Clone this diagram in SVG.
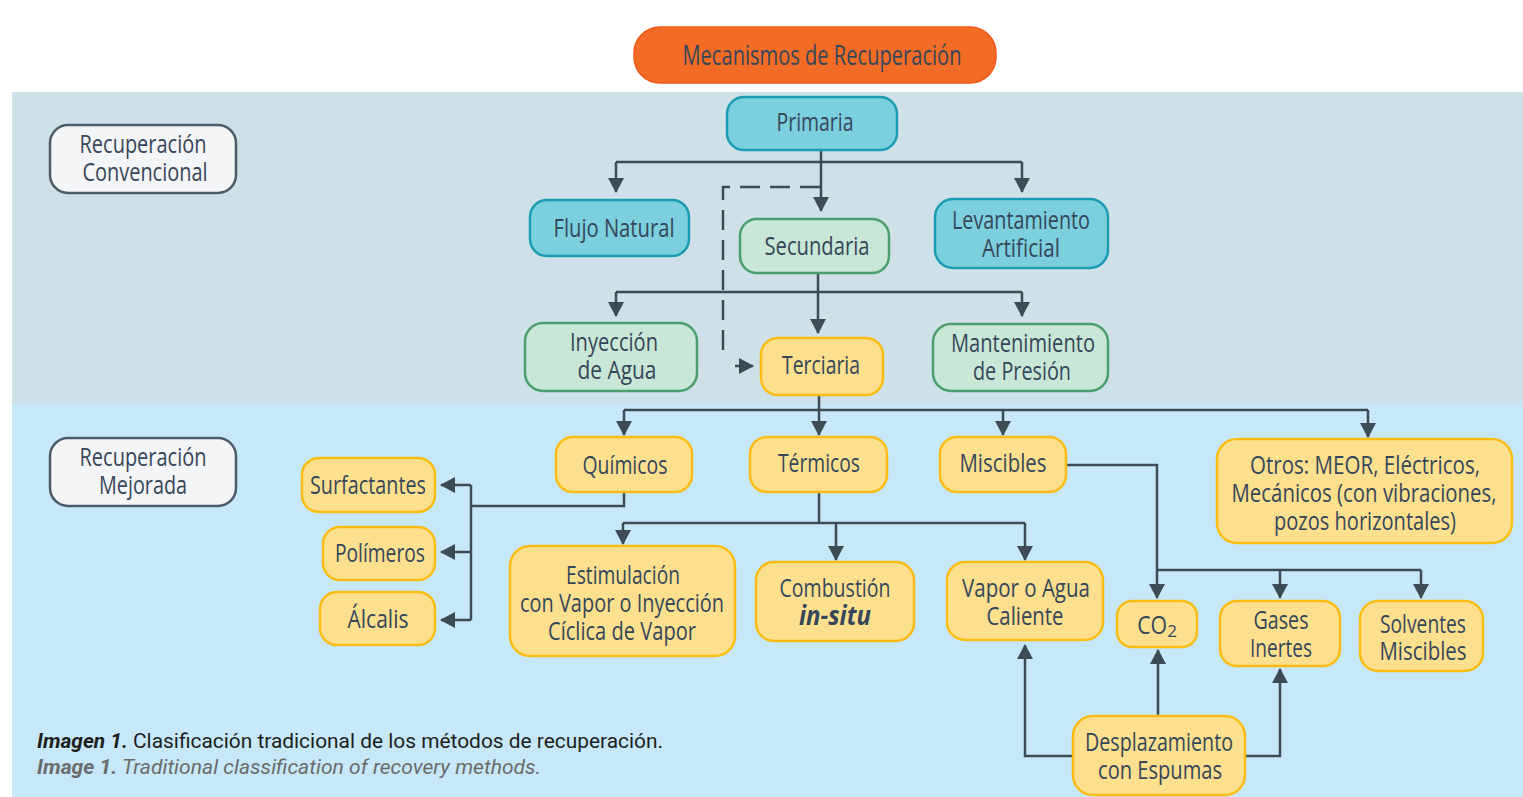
<svg xmlns="http://www.w3.org/2000/svg" width="1523" height="797" viewBox="0 0 1523 797">
<defs>
<marker id="ah" markerUnits="userSpaceOnUse" markerWidth="16" markerHeight="16" viewBox="0 0 16 16" refX="14" refY="8" orient="auto">
<path d="M0,0 L15,8 L0,16 Z" fill="#3d4b55"/>
</marker>
<style>
.t{font-family:"Open Sans","DejaVu Sans",sans-serif;font-size:26px;fill:#36465a;text-anchor:middle;dominant-baseline:central}
.c{fill:none;stroke:#3d4b55;stroke-width:2.5}
.ca{fill:none;stroke:#3d4b55;stroke-width:2.5;marker-end:url(#ah)}
.blue rect{fill:#7ccfdc;stroke:#1c9cb2;stroke-width:2.5}
.green rect{fill:#c9e7d6;stroke:#4c9e6c;stroke-width:2.5}
.yel rect{fill:#fde08e;stroke:#fbbd14;stroke-width:2.5}
.grey rect{fill:#f4f5f6;stroke:#4b5b67;stroke-width:2.5}
.cap{font-family:"Roboto","Liberation Sans",sans-serif;font-size:21px}
</style>
</defs>
<rect x="0" y="0" width="1523" height="797" fill="#ffffff"/>
<rect x="12" y="92" width="1511" height="311" fill="#cee0e8"/>
<rect x="12" y="403" width="1511" height="394" fill="#c6e8f8"/>

<g id="connectors">
<path class="c" d="M821,150 V162 M616,162 H1022"/>
<path class="ca" d="M616,162 V192"/>
<path class="ca" d="M1022,162 V192"/>
<path class="ca" d="M821,162 V211"/>
<path class="c" d="M820,187 H723 V360" stroke-dasharray="20,10"/>
<path class="ca" d="M735,366 H753"/>
<path class="c" d="M818,273 V292 M616,292 H1022"/>
<path class="ca" d="M616,292 V316"/>
<path class="ca" d="M1022,292 V316"/>
<path class="ca" d="M818,292 V333"/>
<path class="c" d="M819,395 V410 M624,410 H1368"/>
<path class="ca" d="M624,410 V435"/>
<path class="ca" d="M819,410 V435"/>
<path class="ca" d="M1003,410 V435"/>
<path class="ca" d="M1368,410 V437"/>
<path class="c" d="M624,492 V506 H471 M471,485 V620"/>
<path class="ca" d="M471,485 H441"/>
<path class="ca" d="M471,552 H441"/>
<path class="ca" d="M471,620 H441"/>
<path class="c" d="M819,492 V523 M623,523 H1025"/>
<path class="ca" d="M623,523 V544"/>
<path class="ca" d="M836,523 V560"/>
<path class="ca" d="M1025,523 V560"/>
<path class="c" d="M1066,465 H1157 V570 M1157,570 H1421"/>
<path class="ca" d="M1157,570 V598"/>
<path class="ca" d="M1280,570 V598"/>
<path class="ca" d="M1421,570 V598"/>
<path class="ca" d="M1073,756 H1025 V645"/>
<path class="ca" d="M1158,716 V650"/>
<path class="ca" d="M1245,756 H1280 V669"/>
</g>

<g id="mecanismos">
<rect x="634" y="27" width="362" height="56" rx="26" fill="#f26c25" stroke="#f05a1a" stroke-width="1.5"/>
<text class="t" x="822" y="54" style="font-size:28px" textLength="279" lengthAdjust="spacingAndGlyphs">Mecanismos de Recuperación</text>
</g>
<g id="rec-convencional" class="grey">
<rect x="50" y="125" width="186" height="68" rx="18"/>
<text class="t" x="143" y="143" textLength="127" lengthAdjust="spacingAndGlyphs">Recuperación</text>
<text class="t" x="145" y="171" textLength="125" lengthAdjust="spacingAndGlyphs">Convencional</text>
</g>
<g id="rec-mejorada" class="grey">
<rect x="50" y="438" width="186" height="68" rx="18"/>
<text class="t" x="143" y="456" textLength="127" lengthAdjust="spacingAndGlyphs">Recuperación</text>
<text class="t" x="143" y="484" textLength="88" lengthAdjust="spacingAndGlyphs">Mejorada</text>
</g>
<g id="primaria" class="blue">
<rect x="727" y="97" width="170" height="53" rx="17"/>
<text class="t" x="815" y="121" textLength="77" lengthAdjust="spacingAndGlyphs">Primaria</text>
</g>
<g id="flujo-natural" class="blue">
<rect x="530" y="200" width="159" height="56" rx="17"/>
<text class="t" x="614" y="227" textLength="121" lengthAdjust="spacingAndGlyphs">Flujo Natural</text>
</g>
<g id="levantamiento" class="blue">
<rect x="935" y="199" width="173" height="69" rx="18"/>
<text class="t" x="1021" y="219" textLength="138" lengthAdjust="spacingAndGlyphs">Levantamiento</text>
<text class="t" x="1021" y="247" textLength="78" lengthAdjust="spacingAndGlyphs">Artificial</text>
</g>
<g id="secundaria" class="green">
<rect x="740" y="219" width="149" height="54" rx="17"/>
<text class="t" x="817" y="245" textLength="105" lengthAdjust="spacingAndGlyphs">Secundaria</text>
</g>
<g id="inyeccion-agua" class="green">
<rect x="525" y="323" width="172" height="68" rx="18"/>
<text class="t" x="614" y="341" textLength="88" lengthAdjust="spacingAndGlyphs">Inyección</text>
<text class="t" x="617" y="369" textLength="79" lengthAdjust="spacingAndGlyphs">de Agua</text>
</g>
<g id="mantenimiento" class="green">
<rect x="933" y="324" width="175" height="67" rx="18"/>
<text class="t" x="1023" y="342" textLength="144" lengthAdjust="spacingAndGlyphs">Mantenimiento</text>
<text class="t" x="1022" y="370" textLength="98" lengthAdjust="spacingAndGlyphs">de Presión</text>
</g>
<g id="terciaria" class="yel">
<rect x="761" y="338" width="122" height="57" rx="17"/>
<text class="t" x="821" y="364" textLength="78" lengthAdjust="spacingAndGlyphs">Terciaria</text>
</g>
<g id="quimicos" class="yel">
<rect x="556" y="437" width="136" height="55" rx="17"/>
<text class="t" x="625" y="464" textLength="85" lengthAdjust="spacingAndGlyphs">Químicos</text>
</g>
<g id="termicos" class="yel">
<rect x="750" y="437" width="137" height="55" rx="17"/>
<text class="t" x="819" y="462" textLength="82" lengthAdjust="spacingAndGlyphs">Térmicos</text>
</g>
<g id="miscibles" class="yel">
<rect x="940" y="437" width="126" height="55" rx="17"/>
<text class="t" x="1003" y="462" textLength="87" lengthAdjust="spacingAndGlyphs">Miscibles</text>
</g>
<g id="otros" class="yel">
<rect x="1217" y="439" width="295" height="104" rx="20"/>
<text class="t" x="1365" y="464" textLength="230" lengthAdjust="spacingAndGlyphs">Otros: MEOR, Eléctricos,</text>
<text class="t" x="1364" y="492" textLength="265" lengthAdjust="spacingAndGlyphs">Mecánicos (con vibraciones,</text>
<text class="t" x="1365" y="520" textLength="182" lengthAdjust="spacingAndGlyphs">pozos horizontales)</text>
</g>
<g id="surfactantes" class="yel">
<rect x="302" y="458" width="133" height="54" rx="17"/>
<text class="t" x="368" y="484" textLength="116" lengthAdjust="spacingAndGlyphs">Surfactantes</text>
</g>
<g id="polimeros" class="yel">
<rect x="323" y="527" width="112" height="53" rx="17"/>
<text class="t" x="380" y="552" textLength="90" lengthAdjust="spacingAndGlyphs">Polímeros</text>
</g>
<g id="alcalis" class="yel">
<rect x="320" y="592" width="115" height="53" rx="17"/>
<text class="t" x="378" y="618" textLength="61" lengthAdjust="spacingAndGlyphs">Álcalis</text>
</g>
<g id="estimulacion" class="yel">
<rect x="510" y="546" width="225" height="110" rx="20"/>
<text class="t" x="623" y="574" textLength="114" lengthAdjust="spacingAndGlyphs">Estimulación</text>
<text class="t" x="622" y="602" textLength="204" lengthAdjust="spacingAndGlyphs">con Vapor o Inyección</text>
<text class="t" x="622" y="630" textLength="148" lengthAdjust="spacingAndGlyphs">Cíclica de Vapor</text>
</g>
<g id="combustion" class="yel">
<rect x="756" y="562" width="158" height="79" rx="18"/>
<text class="t" x="835" y="587" textLength="111" lengthAdjust="spacingAndGlyphs">Combustión</text>
<text class="t" x="835" y="615" style="font-style:italic;font-weight:bold" textLength="72" lengthAdjust="spacingAndGlyphs">in-situ</text>
</g>
<g id="vapor-agua" class="yel">
<rect x="947" y="562" width="156" height="78" rx="18"/>
<text class="t" x="1026" y="587" textLength="128" lengthAdjust="spacingAndGlyphs">Vapor o Agua</text>
<text class="t" x="1025" y="615" textLength="77" lengthAdjust="spacingAndGlyphs">Caliente</text>
</g>
<g id="co2" class="yel">
<rect x="1117" y="601" width="80" height="46" rx="15"/>
<text class="t" x="1157" y="624"><tspan textLength="30" lengthAdjust="spacingAndGlyphs">CO</tspan><tspan dy="6" style="font-size:17px">2</tspan></text>
</g>
<g id="gases-inertes" class="yel">
<rect x="1220" y="601" width="120" height="65" rx="17"/>
<text class="t" x="1281" y="619" textLength="55" lengthAdjust="spacingAndGlyphs">Gases</text>
<text class="t" x="1281" y="647" textLength="62" lengthAdjust="spacingAndGlyphs">Inertes</text>
</g>
<g id="solventes" class="yel">
<rect x="1360" y="601" width="123" height="70" rx="18"/>
<text class="t" x="1423" y="623" textLength="86" lengthAdjust="spacingAndGlyphs">Solventes</text>
<text class="t" x="1423" y="650" textLength="87" lengthAdjust="spacingAndGlyphs">Miscibles</text>
</g>
<g id="desplazamiento" class="yel">
<rect x="1073" y="716" width="172" height="79" rx="20"/>
<text class="t" x="1159" y="741" textLength="148" lengthAdjust="spacingAndGlyphs">Desplazamiento</text>
<text class="t" x="1160" y="769" textLength="124" lengthAdjust="spacingAndGlyphs">con Espumas</text>
</g>

<g id="caption">
<text class="cap" x="37" y="748" fill="#1e1e1e" textLength="626" lengthAdjust="spacingAndGlyphs"><tspan font-weight="bold" font-style="italic">Imagen 1.</tspan> Clasificación tradicional de los métodos de recuperación.</text>
<text class="cap" x="37" y="774" fill="#6b6b6b" font-style="italic" textLength="504" lengthAdjust="spacingAndGlyphs"><tspan font-weight="bold">Image 1.</tspan> Traditional classification of recovery methods.</text>
</g>
</svg>
